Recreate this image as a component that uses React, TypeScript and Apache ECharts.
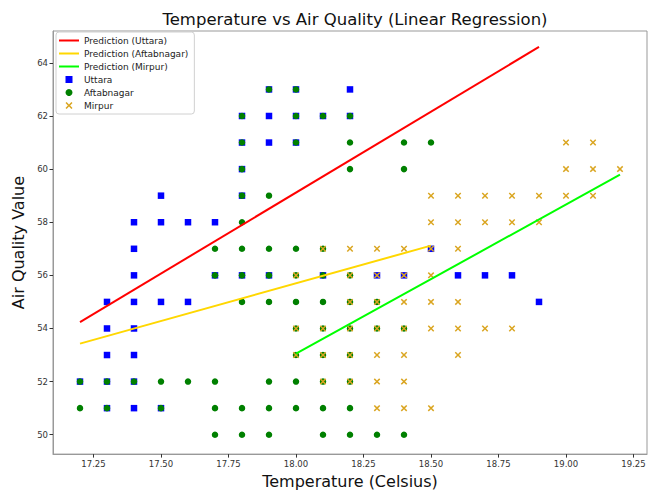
import React, { useEffect, useRef } from "react";
import * as echarts from "echarts";

const xTicks = [17.25, 17.5, 17.75, 18.0, 18.25, 18.5, 18.75, 19.0, 19.25];
const yTicks = [50, 52, 54, 56, 58, 60, 62, 64];

const uttara = [
  [17.2, 52],
  [17.3, 55], [17.3, 54], [17.3, 53], [17.3, 52], [17.3, 51],
  [17.4, 58], [17.4, 57], [17.4, 56], [17.4, 55], [17.4, 54], [17.4, 53], [17.4, 52], [17.4, 51],
  [17.5, 59], [17.5, 58], [17.5, 55], [17.5, 51],
  [17.6, 58], [17.6, 55],
  [17.7, 58], [17.7, 56],
  [17.8, 62], [17.8, 61], [17.8, 60], [17.8, 59], [17.8, 56],
  [17.9, 63], [17.9, 62], [17.9, 61], [17.9, 56],
  [18.0, 63], [18.0, 62], [18.0, 61],
  [18.1, 62], [18.1, 56],
  [18.2, 63], [18.2, 62],
  [18.3, 56], [18.4, 56], [18.5, 57], [18.6, 56], [18.7, 56], [18.8, 56], [18.9, 55],
];

const aftabnagar = [
  [17.2, 52], [17.2, 51],
  [17.3, 52], [17.3, 51],
  [17.4, 52],
  [17.5, 52], [17.5, 51],
  [17.6, 52],
  [17.7, 57], [17.7, 56], [17.7, 52], [17.7, 51], [17.7, 50],
  [17.8, 62], [17.8, 61], [17.8, 60], [17.8, 59], [17.8, 58], [17.8, 57], [17.8, 56], [17.8, 55], [17.8, 51], [17.8, 50],
  [17.9, 63], [17.9, 59], [17.9, 57], [17.9, 56], [17.9, 55], [17.9, 52], [17.9, 51], [17.9, 50],
  [18.0, 63], [18.0, 62], [18.0, 61], [18.0, 57], [18.0, 56], [18.0, 55], [18.0, 54], [18.0, 53], [18.0, 52], [18.0, 51],
  [18.1, 62], [18.1, 57], [18.1, 56], [18.1, 55], [18.1, 54], [18.1, 53], [18.1, 52], [18.1, 51], [18.1, 50],
  [18.2, 62], [18.2, 61], [18.2, 60], [18.2, 56], [18.2, 55], [18.2, 54], [18.2, 53], [18.2, 52], [18.2, 51], [18.2, 50],
  [18.3, 55], [18.3, 54], [18.3, 50],
  [18.4, 61], [18.4, 60], [18.4, 54], [18.4, 50],
  [18.5, 61],
];

const mirpur = [
  [18.0, 56], [18.0, 54], [18.0, 53],
  [18.1, 57], [18.1, 54], [18.1, 53], [18.1, 52],
  [18.2, 57], [18.2, 56], [18.2, 55], [18.2, 54], [18.2, 53], [18.2, 52],
  [18.3, 57], [18.3, 56], [18.3, 55], [18.3, 54], [18.3, 53], [18.3, 52], [18.3, 51],
  [18.4, 57], [18.4, 56], [18.4, 55], [18.4, 54], [18.4, 53], [18.4, 52], [18.4, 51],
  [18.5, 59], [18.5, 58], [18.5, 57], [18.5, 56], [18.5, 55], [18.5, 54], [18.5, 51],
  [18.6, 59], [18.6, 58], [18.6, 57], [18.6, 55], [18.6, 54], [18.6, 53],
  [18.7, 59], [18.7, 58], [18.7, 54],
  [18.8, 59], [18.8, 58], [18.8, 54],
  [18.9, 59], [18.9, 58],
  [19.0, 61], [19.0, 60], [19.0, 59],
  [19.1, 61], [19.1, 60], [19.1, 59],
  [19.2, 60],
];

const predUttara = [[17.2, 54.24], [18.9, 64.6]];
const predAftabnagar = [[17.2, 53.43], [18.5, 57.12]];
const predMirpur = [[18.0, 53.05], [19.2, 59.79]];

const FONT = "DejaVu Sans";
const CROSS =
  "path://M0,1.6 L1.6,0 L5,3.4 L8.4,0 L10,1.6 L6.6,5 L10,8.4 L8.4,10 L5,6.6 L1.6,10 L0,8.4 L3.4,5 Z";
const SQUARE = "path://M0,0 H10 V10 H0 Z";
const BAR = "path://M0,0 H20 V2 H0 Z";

export default function App() {
  const ref = useRef<HTMLDivElement>(null);
  useEffect(() => {
    if (!ref.current) return;
    const chart = echarts.init(ref.current, null, { renderer: "svg" });
    const lineSeries = (name: string, data: number[][], color: string) => ({
      name,
      type: "line",
      data,
      symbol: "none",
      showSymbol: false,
      z: 3,
      lineStyle: { color, width: 2 },
      itemStyle: { color },
    });
    const scatter = (name: string, data: number[][], symbol: string, color: string) => ({
      name,
      type: "scatter",
      data,
      symbol,
      symbolSize: 6.5,
      z: 2,
      itemStyle: { color, opacity: 1 },
    });
    chart.setOption({
      animation: false,
      backgroundColor: "#ffffff",
      title: {
        text: "Temperature vs Air Quality (Linear Regression)",
        left: 350,
        top: 6,
        textAlign: "center",
        textStyle: { fontFamily: FONT, fontSize: 16.5, fontWeight: "normal", color: "#111" },
      },
      legend: {
        orient: "vertical",
        left: 56,
        top: 32,
        padding: [4, 6, 4, 3],
        itemWidth: 20,
        itemHeight: 7,
        itemGap: 4,
        backgroundColor: "#ffffff",
        borderColor: "#d0d0d0",
        borderWidth: 1,
        borderRadius: 3,
        textStyle: { fontFamily: FONT, fontSize: 9, color: "#222", lineHeight: 9 },
        data: [
          { name: "Prediction (Uttara)", icon: BAR },
          { name: "Prediction (Aftabnagar)", icon: BAR },
          { name: "Prediction (Mirpur)", icon: BAR },
          { name: "Uttara", icon: SQUARE },
          { name: "Aftabnagar", icon: "circle" },
          { name: "Mirpur", icon: CROSS },
        ],
      },
      grid: {
        left: 53,
        right: 4,
        top: 31,
        bottom: 36,
        show: true,
        borderColor: "#999",
        borderWidth: 1,
        backgroundColor: "transparent",
      },
      xAxis: {
        type: "value",
        min: 17.1,
        max: 19.3,
        name: "Temperature (Celsius)",
        nameLocation: "middle",
        nameGap: 18,
        nameTextStyle: { fontFamily: FONT, fontSize: 16, color: "#111" },
        splitLine: { show: false },
        axisLine: { show: true, lineStyle: { color: "#999" } },
        axisTick: { show: true, length: 3.5, lineStyle: { color: "#333" }, customValues: xTicks },
        axisLabel: {
          customValues: xTicks,
          formatter: (v: number) => v.toFixed(2),
          fontFamily: FONT,
          fontSize: 8.5,
          color: "#333",
          margin: 5,
        },
      },
      yAxis: {
        type: "value",
        min: 49.27,
        max: 65.2,
        name: "Air Quality Value",
        nameLocation: "middle",
        nameGap: 25,
        nameTextStyle: { fontFamily: FONT, fontSize: 16, color: "#111" },
        splitLine: { show: false },
        axisLine: { show: true, lineStyle: { color: "#999" } },
        axisTick: { show: true, length: 3.5, lineStyle: { color: "#333" }, customValues: yTicks },
        axisLabel: {
          customValues: yTicks,
          fontFamily: FONT,
          fontSize: 8.5,
          color: "#333",
          margin: 5,
        },
      },
      series: [
        scatter("Uttara", uttara, "rect", "#0000ff"),
        scatter("Aftabnagar", aftabnagar, "circle", "#008000"),
        scatter("Mirpur", mirpur, CROSS, "#daa520"),
        lineSeries("Prediction (Uttara)", predUttara, "#ff0000"),
        lineSeries("Prediction (Aftabnagar)", predAftabnagar, "#ffd700"),
        lineSeries("Prediction (Mirpur)", predMirpur, "#00ff00"),
      ],
    });
    return () => chart.dispose();
  }, []);
  return (
    <div
      ref={ref}
      style={{ position: "fixed", left: 0, top: 0, width: 651, height: 494 }}
    />
  );
}
